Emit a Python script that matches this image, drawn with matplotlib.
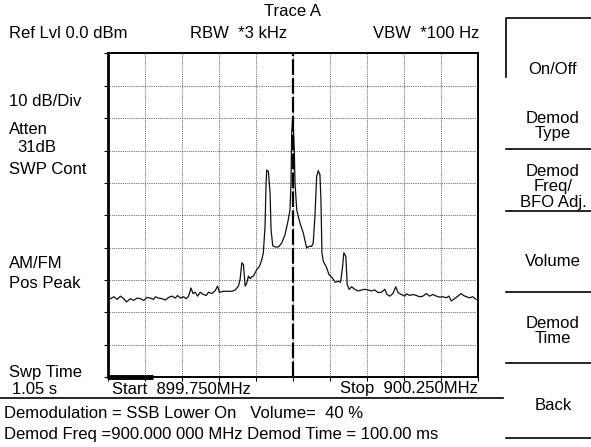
import matplotlib
matplotlib.use('Agg')
import matplotlib.pyplot as plt
import numpy as np

plt.rcParams['font.family'] = ['Liberation Sans', 'DejaVu Sans']

W, H = 591, 447

# trace A: offset from 900 MHz (kHz) and level (dBm)
offset_khz = [-246.0, -241.5, -236.9, -232.5, -228.0, -224.4, -219.0, -214.5, -210.0, -205.5,
              -201.1, -196.5, -192.0, -187.6, -185.3, -180.9, -176.3, -171.8, -167.4, -162.8,
              -158.4, -155.3, -151.6, -147.2, -143.5, -140.4, -137.2, -134.5, -131.4, -128.3,
              -124.7, -121.0, -116.6, -113.5, -108.9, -104.4, -101.3, -98.6, -94.1, -88.7,
              -81.9, -77.5, -73.0, -70.8, -68.5, -66.3, -64.0, -61.7, -59.6, -57.3,
              -55.0, -52.8, -50.5, -48.2, -44.7, -41.5, -39.4, -37.1, -35.7, -34.8,
              -32.6, -30.3, -29.0, -26.7, -23.6, -19.1, -14.6, -10.1, -5.7, -3.4,
              -2.0, -1.1, 0.3, 1.1, 2.4, 3.4, 5.7, 7.8, 10.1, 14.6,
              19.1, 22.6, 25.9, 28.0, 30.3, 32.6, 34.8, 37.1, 38.4, 39.8,
              41.5, 46.1, 49.2, 53.6, 57.7, 62.3, 65.0, 67.7, 69.4, 72.1,
              73.9, 76.5, 79.8, 84.2, 88.7, 93.3, 97.7, 102.2, 106.7, 111.2,
              115.6, 120.2, 124.7, 127.8, 131.4, 135.8, 139.5, 142.6, 147.2, 151.6,
              153.9, 158.4, 162.8, 167.4, 171.8, 176.3, 180.9, 185.3, 189.8, 194.3,
              198.8, 203.2, 207.8, 211.3, 214.6, 219.0, 223.5, 228.0, 231.1, 234.8,
              239.2, 243.7, 248.2]
level_dbm = [-75.8, -75.2, -76.0, -75.0, -75.8, -76.8, -75.8, -76.3, -75.6, -75.8,
             -76.3, -75.4, -75.6, -76.0, -75.2, -75.6, -75.8, -76.2, -75.4, -75.0,
             -75.6, -74.8, -75.6, -75.2, -75.8, -75.0, -72.5, -74.2, -73.8, -75.0,
             -73.8, -74.4, -74.8, -73.8, -74.2, -73.3, -71.9, -73.9, -73.5, -73.5,
             -73.5, -73.1, -71.9, -69.8, -64.7, -65.2, -71.9, -70.9, -68.8, -69.6,
             -69.0, -68.8, -67.8, -66.8, -65.8, -63.7, -61.6, -53.4, -40.1, -36.0,
             -36.5, -43.2, -54.5, -59.4, -59.8, -59.8, -58.6, -56.0, -51.4, -48.3,
             -40.1, -24.7, -19.6, -22.7, -29.8, -40.1, -48.3, -50.4, -52.4, -55.5,
             -60.1, -59.6, -59.6, -58.6, -50.4, -38.1, -36.2, -37.5, -45.2, -61.6,
             -64.2, -66.2, -68.3, -69.3, -70.7, -70.4, -70.7, -65.8, -61.6, -62.7,
             -71.4, -72.9, -72.1, -72.9, -73.4, -73.1, -72.9, -73.1, -73.4, -73.1,
             -73.9, -73.8, -72.9, -74.5, -75.0, -74.2, -72.1, -73.9, -74.5, -75.0,
             -74.3, -74.8, -74.5, -74.8, -75.2, -75.0, -74.2, -75.0, -74.5, -75.0,
             -75.3, -75.2, -75.5, -75.0, -76.5, -75.8, -75.0, -74.2, -74.8, -75.2,
             -75.5, -75.2, -76.0]

center_mhz = 900.0
span_mhz = 0.5
ref_level = 0.0
db_per_div = 10
sweep_done_mhz = 899.812

softkeys = ['On/Off', 'Demod\nType', 'Demod\nFreq/\nBFO Adj.', 'Volume', 'Demod\nTime', 'Back']

freq = center_mhz + np.array(offset_khz) / 1000.0
level = np.array(level_dbm)

fig = plt.figure(figsize=(W / 100, H / 100), dpi=100)
fig.patch.set_facecolor('white')

# overlay in screen pixels for the annotation text and softkey frame
ov = fig.add_axes([0, 0, 1, 1])
ov.set_xlim(0, W)
ov.set_ylim(H, 0)
ov.axis('off')

ax = fig.add_axes([107.5 / W, 1 - 377 / H, 370 / W, 323.5 / H])
f0 = center_mhz - span_mhz / 2
f1 = center_mhz + span_mhz / 2
ax.set_xlim(f0, f1)
ax.set_ylim(ref_level - 10 * db_per_div, ref_level)
ax.set_xticks(np.linspace(f0, f1, 11))
ax.set_yticks(np.arange(ref_level - 10 * db_per_div, ref_level + 1, db_per_div))
ax.set_xticklabels([])
ax.set_yticklabels([])
ax.tick_params(direction='out', length=3, width=0.8, color='black')
ax.grid(True, color='#444444', linestyle=(0, (1, 1.2)), linewidth=0.6)
for s in ax.spines.values():
    s.set_linewidth(1.4)
    s.set_color('black')
ax.spines['left'].set_linewidth(2)

ax.plot(freq, level, color='#111111', linewidth=0.9)
ax.axvline(center_mhz, color='black', linewidth=1.6, dashes=(7, 1.5))
ax.plot([f0, sweep_done_mhz], [ref_level - 10 * db_per_div] * 2, color='black',
        linewidth=3.5, solid_capstyle='butt', clip_on=False)

fs = 12
ov.text(293, 12, 'Trace A', ha='center', va='center', fontsize=fs)
ov.text(9, 33, 'Ref Lvl 0.0 dBm', ha='left', va='center', fontsize=fs)
ov.text(190, 33, 'RBW  *3 kHz', ha='left', va='center', fontsize=fs)
ov.text(373, 33, 'VBW  *100 Hz', ha='left', va='center', fontsize=fs)
ov.text(9, 102, '10 dB/Div', ha='left', va='center', fontsize=fs)
ov.text(9, 130, 'Atten', ha='left', va='center', fontsize=fs)
ov.text(17, 148, '31dB', ha='left', va='center', fontsize=fs)
ov.text(9, 170, 'SWP Cont', ha='left', va='center', fontsize=fs)
ov.text(9, 263, 'AM/FM', ha='left', va='center', fontsize=fs)
ov.text(9, 284, 'Pos Peak', ha='left', va='center', fontsize=fs)
ov.text(9, 372, 'Swp Time', ha='left', va='center', fontsize=fs)
ov.text(12, 389, '1.05 s', ha='left', va='center', fontsize=fs)
ov.text(112, 389, 'Start  %.3fMHz' % f0, ha='left', va='center', fontsize=fs)
ov.text(478, 389, 'Stop  %.3fMHz' % f1, ha='right', va='center', fontsize=fs)
ov.plot([0, 503], [398, 398], color='black', linewidth=1.2)
ov.text(4, 413, 'Demodulation = SSB Lower On   Volume=  40 %', ha='left', va='center', fontsize=fs)
ov.text(4, 435, 'Demod Freq =900.000 000 MHz Demod Time = 100.00 ms', ha='left',
        va='center', fontsize=fs)

# softkey column
ov.plot([506, 506, W], [77, 18, 18], color='black', linewidth=1.2)
key_y = [69, 126, 187, 262, 331, 405]
line_y = [149, 211, 292, 363, 438]
for k, y in zip(softkeys, key_y):
    ov.text(553, y, k, ha='center', va='center', fontsize=fs, linespacing=1.0)
for y in line_y:
    ov.plot([506, W], [y, y], color='black', linewidth=1.2)

fig.savefig('out.png', dpi=100)
